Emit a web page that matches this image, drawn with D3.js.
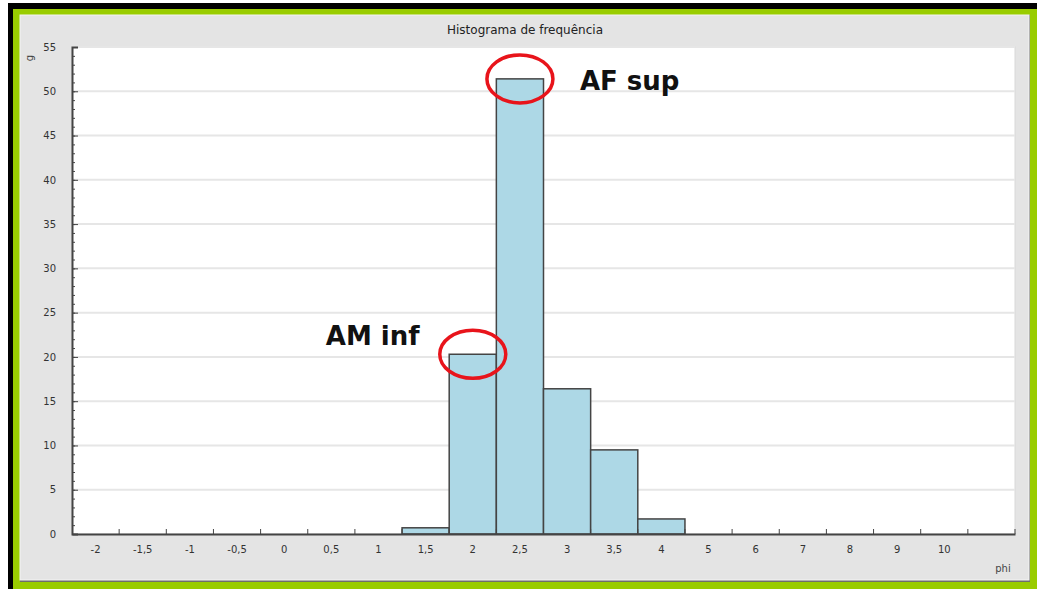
<!DOCTYPE html>
<html>
<head>
<meta charset="utf-8">
<script src="https://cdn.jsdelivr.net/npm/d3@7"></script>
<style>
  body { margin: 0; background: #fff; }
  svg text { font-family: "DejaVu Sans", sans-serif; }
</style>
</head>
<body>
<div id="chart"></div>
<script>

// Histogram of grain size (phi) by weight (g)

const width = 1037;
const height = 589;
// plot area inside the grey window
const margin = {left: 72, right: 22, top: 47, bottom: 55};

// bins and values
const binLabels = ["-2", "-1,5", "-1", "-0,5", "0", "0,5", "1", "1,5", "2", "2,5",
                   "3", "3,5", "4", "5", "6", "7", "8", "9", "10", ""];
const weights = [0, 0, 0, 0, 0, 0, 0, 0.7, 20.3, 51.4,
                 16.4, 9.5, 1.7, 0, 0, 0, 0, 0, 0, 0];
const yTicks = [0, 5, 10, 15, 20, 25, 30, 35, 40, 45, 50, 55];

// callouts drawn over the chart
const notes = [
  {text: "AF sup", bin: 9, dx: 60, dy: 11},
  {text: "AM inf", bin: 8, dx: -147, dy: -9}
];

const svg = d3.select("#chart")
  .append("svg")
  .attr("width", width)
  .attr("height", height);

/*
  Window frame
*/

// black shadow on top and left
svg.append("rect").attr("x", 8).attr("y", 3).attr("width", width - 8).attr("height", 6).attr("fill", "#000");
svg.append("rect").attr("x", 8).attr("y", 3).attr("width", 6).attr("height", height - 3).attr("fill", "#000");

// green border
svg.append("rect")
  .attr("x", 13).attr("y", 9)
  .attr("width", width - 13).attr("height", height - 9)
  .attr("fill", "#99cc00");

// grey panel
svg.append("rect")
  .attr("x", 20).attr("y", 15)
  .attr("width", 1010).attr("height", 567)
  .attr("fill", "#6e6e6e");
svg.append("rect")
  .attr("x", 20).attr("y", 15)
  .attr("width", 1009).attr("height", 565)
  .attr("fill", "#e4e4e4")
  .attr("stroke", "#f4f4f4")
  .attr("stroke-width", 1);

// white plot background
svg.append("rect")
  .attr("x", margin.left).attr("y", margin.top)
  .attr("width", width - margin.left - margin.right)
  .attr("height", height - margin.top - margin.bottom)
  .attr("fill", "#fff")
  .attr("stroke", "#d8d8d8");

/*
  Scales
*/

let xScale = d3.scaleBand()
  .domain(d3.range(binLabels.length))
  .range([margin.left, width - margin.right]);

let yScale = d3.scaleLinear()
  .domain([0, 55])
  .range([height - margin.bottom, margin.top]);

// horizontal grid lines every 5
svg.append("g")
  .selectAll("line")
  .data(yTicks.slice(1))
  .enter()
  .append("line")
    .attr("x1", margin.left)
    .attr("x2", width - margin.right)
    .attr("y1", d => yScale(d))
    .attr("y2", d => yScale(d))
    .attr("stroke", "#e6e6e6")
    .attr("stroke-width", 2);

// title
svg.append("text")
  .attr("x", 525)
  .attr("y", 34)
  .attr("text-anchor", "middle")
  .attr("font-size", "12px")
  .attr("fill", "#222")
  .text("Histograma de frequência");

/*
  Bars
*/

// keep the bin index with each value, skip empty bins
const barData = weights
  .map((w, i) => ({bin: i, w: w}))
  .filter(d => d.w > 0);

svg.selectAll(".bar")
  .data(barData)
  .enter()
  .append("rect")
    .attr("class", "bar")
    .attr("x", d => xScale(d.bin))
    .attr("y", d => yScale(d.w))
    .attr("width", xScale.bandwidth())
    .attr("height", d => yScale(0) - yScale(d.w))
    .attr("fill", "#add8e6")
    .attr("stroke", "#444")
    .attr("stroke-width", 1.5);

/*
  Axes
*/

// y axis, minor ticks every 1
svg.append("g")
  .attr("transform", `translate(${margin.left},0)`)
  .call(d3.axisLeft(yScale).ticks(55).tickSize(-3).tickFormat(""))
  .call(g => g.select(".domain").remove())
  .selectAll("line").attr("stroke", "#444");

// y axis, labelled ticks every 5
svg.append("g")
  .attr("transform", `translate(${margin.left},0)`)
  .call(d3.axisLeft(yScale).tickValues(yTicks).tickSize(-6).tickPadding(16))
  .call(g => g.select(".domain").attr("stroke", "#444").attr("stroke-width", 2))
  .call(g => g.selectAll("line").attr("stroke", "#444"))
  .call(g => g.selectAll("text")
    .attr("font-size", "10px")
    .attr("fill", "#333")
    .attr("font-family", "DejaVu Sans Condensed, DejaVu Sans, sans-serif"));

// x axis: labels centred on the bins
svg.append("g")
  .attr("transform", `translate(0,${height - margin.bottom})`)
  .call(d3.axisBottom(xScale).tickSize(0).tickPadding(12).tickFormat(i => binLabels[i]))
  .call(g => g.select(".domain").attr("stroke", "#444").attr("stroke-width", 2))
  .call(g => g.selectAll("text")
    .attr("font-size", "10px")
    .attr("fill", "#333")
    .attr("font-family", "DejaVu Sans Condensed, DejaVu Sans, sans-serif"));

// x axis: small ticks on bin edges
svg.append("g")
  .selectAll("line")
  .data(d3.range(1, binLabels.length + 1))
  .enter()
  .append("line")
    .attr("x1", i => xScale(i - 1) + xScale.bandwidth())
    .attr("x2", i => xScale(i - 1) + xScale.bandwidth())
    .attr("y1", yScale(0))
    .attr("y2", yScale(0) - 5)
    .attr("stroke", "#444");

// axis titles
svg.append("text")
  .attr("transform", `translate(33,58) rotate(-90)`)
  .attr("text-anchor", "middle")
  .attr("font-size", "10px")
  .attr("fill", "#444")
  .text("g");

svg.append("text")
  .attr("x", 1003)
  .attr("y", 572)
  .attr("text-anchor", "middle")
  .attr("font-size", "10px")
  .attr("fill", "#444")
  .text("phi");

/*
  Callouts
*/

const noteG = svg.append("g");

noteG.selectAll("ellipse")
  .data(notes)
  .enter()
  .append("ellipse")
    .attr("cx", d => xScale(d.bin) + xScale.bandwidth() / 2)
    .attr("cy", d => yScale(weights[d.bin]))
    .attr("rx", 33)
    .attr("ry", 24)
    .attr("fill", "none")
    .attr("stroke", "#e8141b")
    .attr("stroke-width", 3.5);

noteG.selectAll("text")
  .data(notes)
  .enter()
  .append("text")
    .attr("x", d => xScale(d.bin) + xScale.bandwidth() / 2 + d.dx)
    .attr("y", d => yScale(weights[d.bin]) + d.dy)
    .attr("font-family", "Liberation Sans, Arial, sans-serif")
    .attr("font-weight", "bold")
    .attr("font-size", "26px")
    .attr("fill", "#111")
    .text(d => d.text);

</script>
</body>
</html>
